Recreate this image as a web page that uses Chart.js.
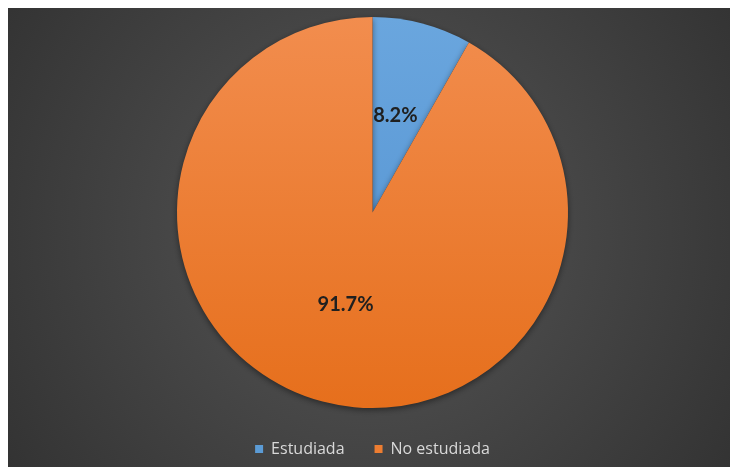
<!DOCTYPE html>
<html>
<head>
<meta charset="utf-8">
<script src="https://cdn.jsdelivr.net/npm/chart.js@4"></script>
<style>
  html, body { margin: 0; padding: 0; background: #fff; }
  #wrap { width: 733px; height: 467px; }
</style>
</head>
<body>
<div id="wrap"><canvas id="myChart" width="733" height="467"></canvas></div>
<script>
var categories = ['Estudiada', 'No estudiada'];
var percentages = [8.2, 91.7];
var valueLabels = ['8.2%', '91.7%'];

// top / bottom tones of each slice (Excel style shading)
var topColors = ['#6aa6de', '#f28d4e'];
var bottomColors = ['#4f8fcf', '#e66f1c'];
var flatColors = ['#5b9bd5', '#ed7d31'];

// dark panel with a soft radial light in the middle
var panelBackground = {
    id: 'panelBackground',
    beforeDraw: function (chart) {
        var ctx = chart.ctx;
        ctx.save();
        ctx.fillStyle = '#ffffff';
        ctx.fillRect(0, 0, chart.width, chart.height);
        var g = ctx.createRadialGradient(370, 230, 20, 370, 230, 470);
        g.addColorStop(0, '#555555');
        g.addColorStop(1, '#303030');
        ctx.fillStyle = g;
        ctx.fillRect(8, 8, 722, chart.height - 8);
        ctx.restore();
    }
};

var pieShadow = {
    id: 'pieShadow',
    beforeDatasetsDraw: function (chart) {
        var ctx = chart.ctx;
        ctx.save();
        ctx.shadowColor = 'rgba(0,0,0,0.45)';
        ctx.shadowBlur = 6;
        ctx.shadowOffsetY = 2;
    },
    afterDatasetsDraw: function (chart) {
        chart.ctx.restore();
    }
};

var sliceLabels = {
    id: 'sliceLabels',
    afterDatasetsDraw: function (chart) {
        var ctx = chart.ctx;
        var meta = chart.getDatasetMeta(0);
        ctx.save();
        ctx.font = 'bold 20px Lato, "Open Sans", sans-serif';
        ctx.fillStyle = '#202020';
        ctx.textAlign = 'center';
        ctx.textBaseline = 'middle';
        meta.data.forEach(function (arc, i) {
            var p = arc.getCenterPoint();
            ctx.fillText(valueLabels[i], p.x - 2, p.y - 2);
        });
        ctx.restore();
    }
};

function sliceFill(context) {
    var chart = context.chart;
    var area = chart.chartArea;
    var i = context.dataIndex;
    if (!area) return flatColors[i];
    var g = chart.ctx.createLinearGradient(0, 17, 0, 408);
    g.addColorStop(0, topColors[i]);
    g.addColorStop(1, bottomColors[i]);
    return g;
}

var ctx = document.getElementById('myChart').getContext('2d');
var myChart = new Chart(ctx, {
    type: 'pie',
    data: {
        labels: categories,
        datasets: [{
            data: percentages,
            backgroundColor: sliceFill,
            borderWidth: 0,
            hoverOffset: 0,
            radius: 195.5
        }]
    },
    options: {
        responsive: false,
        animation: false,
        events: [],
        layout: {
            padding: { top: 23, left: 12, right: 0, bottom: 0 }
        },
        plugins: {
            tooltip: { enabled: false },
            legend: {
                position: 'bottom',
                title: {
                    display: true,
                    text: ' ',
                    font: { size: 5, lineHeight: 1.8 },
                    padding: 0
                },
                labels: {
                    color: '#d9d9d9',
                    font: { family: '"Open Sans", Lato, sans-serif', size: 16 },
                    boxWidth: 8,
                    boxHeight: 8,
                    padding: 30,
                    generateLabels: function (chart) {
                        return categories.map(function (c, i) {
                            return {
                                text: c,
                                fillStyle: flatColors[i],
                                strokeStyle: flatColors[i],
                                lineWidth: 0,
                                fontColor: '#d9d9d9',
                                index: i
                            };
                        });
                    }
                }
            }
        }
    },
    plugins: [panelBackground, pieShadow, sliceLabels]
});
</script>
</body>
</html>
